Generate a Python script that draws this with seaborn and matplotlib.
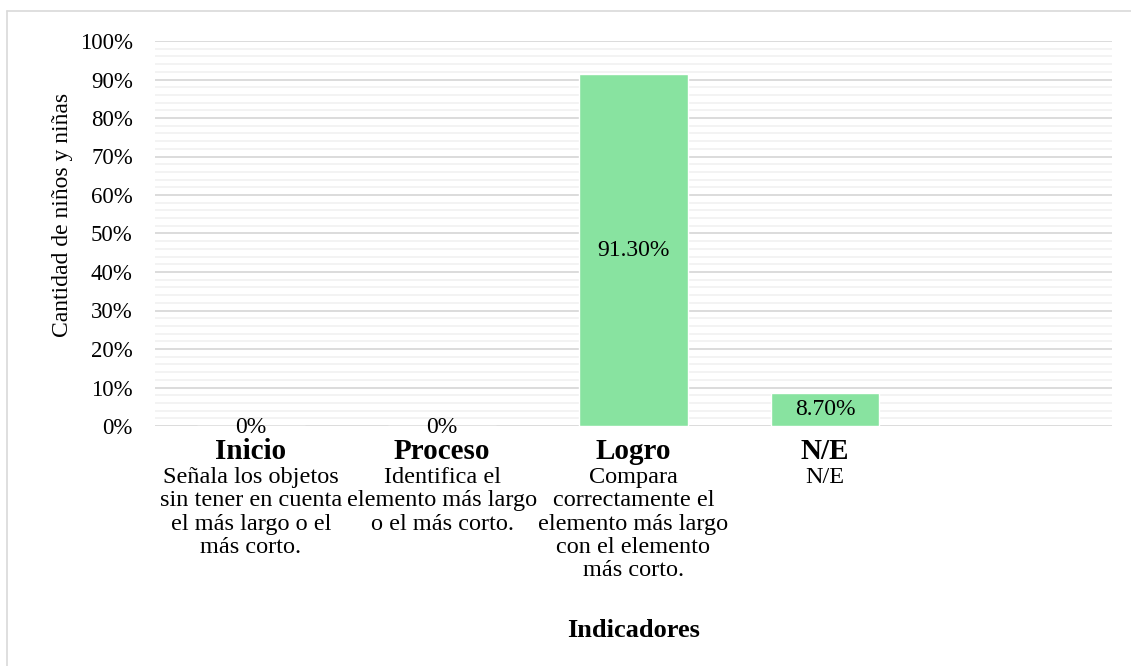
import numpy as np
import pandas as pd
import seaborn as sns
import matplotlib.pyplot as plt
from matplotlib.ticker import MultipleLocator, PercentFormatter

# data
categorias = ["Inicio", "Proceso", "Logro", "N/E"]
porcentajes = [0.0, 0.0, 0.913, 0.087]
etiquetas = ["0%", "0%", "91.30%", "8.70%"]
descripciones = [
    "Señala los objetos\nsin tener en cuenta\nel más largo o el\nmás corto.",
    "Identifica el\nelemento más largo\no el más corto.",
    "Compara\ncorrectamente el\nelemento más largo\ncon el elemento\nmás corto.",
    "N/E",
]

sns.set_theme(style="white")
plt.rcParams['font.family'] = ['Liberation Serif', 'DejaVu Serif']
plt.rcParams['text.color'] = 'black'
plt.rcParams['axes.labelcolor'] = 'black'

df = pd.DataFrame({"cat": categorias, "val": porcentajes})

fig = plt.figure(figsize=(11.31, 6.66), dpi=100)
ax = fig.add_axes([155 / 1131, 1 - 426 / 666, (1112 - 155) / 1131, (426 - 41) / 666])

sns.barplot(data=df, x="cat", y="val", color="#88e3a0", saturation=1,
            width=0.565, ax=ax, zorder=3)

ax.set_xlim(-0.5, 4.5)
ax.set_ylim(0, 1)
ax.yaxis.set_major_locator(MultipleLocator(0.1))
ax.yaxis.set_minor_locator(MultipleLocator(0.02))
ax.yaxis.set_major_formatter(PercentFormatter(1.0, decimals=0))
ax.grid(axis="y", which="major", color="#d9d9d9", linewidth=1.3, zorder=0)
ax.grid(axis="y", which="minor", color="#f2f2f2", linewidth=1.3, zorder=0)
ax.set_axisbelow(True)
for s in ax.spines.values():
    s.set_visible(False)
ax.tick_params(axis="y", which="both", length=0, pad=16, labelsize=16.5, labelcolor="black")
ax.tick_params(axis="x", length=0)
ax.set_xticklabels([])
ax.set_xlabel("")
ax.set_ylabel("Cantidad de niños y niñas", fontsize=17)
ax.yaxis.set_label_coords(-0.086, 0.548)

# value labels
for i, (v, t) in enumerate(zip(porcentajes, etiquetas)):
    ax.text(i, v / 2 - (0.004 if v == 0 else 0), t, ha="center", va="center",
            fontsize=17, zorder=4)

# category names and descriptions under the axis
tr = ax.get_xaxis_transform()
for i, (c, d) in enumerate(zip(categorias, descripciones)):
    ax.text(i, -0.066, c, transform=tr, ha="center", va="center",
            fontsize=21, fontweight="bold")
    ax.text(i, -0.106, d, transform=tr, ha="center", va="top",
            fontsize=17.5, linespacing=1.15)

ax.text(0.5, -0.531, "Indicadores", transform=ax.transAxes, ha="center",
        va="center", fontsize=19, fontweight="bold")

# light frame around the chart
fig.add_artist(plt.Line2D([7 / 1131, 7 / 1131], [0, 1 - 11 / 666],
                          transform=fig.transFigure, color="#d9d9d9", lw=1.2))
fig.add_artist(plt.Line2D([7 / 1131, 1], [1 - 11 / 666, 1 - 11 / 666],
                          transform=fig.transFigure, color="#d9d9d9", lw=1.2))

fig.savefig("out.png", dpi=100)
